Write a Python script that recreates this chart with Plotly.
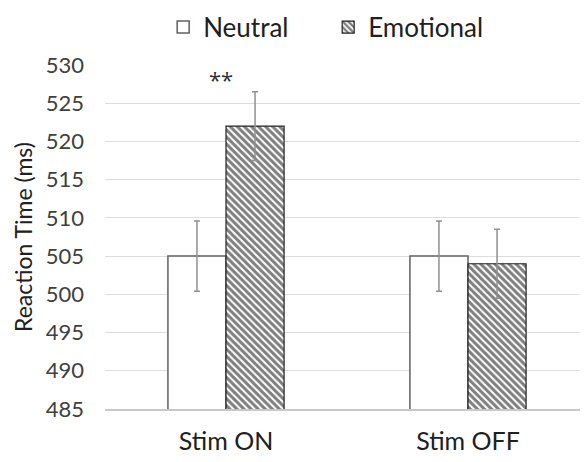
import plotly.graph_objects as go

categories = ["Stim ON", "Stim OFF"]
neutral = [505.0, 505.0]
emotional = [522.0, 504.0]
neutral_err = [4.6, 4.6]
emotional_err = [4.5, 4.5]
y_ticks = [485, 490, 495, 500, 505, 510, 515, 520, 525, 530]

FONT = "Lato"
TXT = "#404040"

fig = go.Figure()
fig.add_trace(go.Bar(
    name="Neutral", x=categories, y=neutral,
    marker=dict(color="white", line=dict(color="#606060", width=1.5)),
    error_y=dict(type="data", array=neutral_err, color="#909090", thickness=1.5, width=3),
))
fig.add_trace(go.Bar(
    name="Emotional", x=categories, y=emotional,
    marker=dict(color="white", line=dict(color="#202020", width=1.2),
                pattern=dict(shape="\\", fgcolor="#000000", bgcolor="white", size=5, solidity=0.6)),
    error_y=dict(type="data", array=emotional_err, color="#909090", thickness=1.5, width=3),
))

fig.add_annotation(x=categories[0], y=528.2, text="**", showarrow=False, xshift=-5,
                   font=dict(family="Open Sans", size=22, color="#303030"))

fig.update_layout(
    width=588, height=462,
    margin=dict(l=97, r=7, t=57, b=61, autoexpand=False),
    paper_bgcolor="white", plot_bgcolor="white",
    barmode="group", bargap=0.52, bargroupgap=0,
    font=dict(family=FONT, size=22, color=TXT),
    showlegend=True,
    legend=dict(orientation="h", x=0.5445, xanchor="center", xref="container",
                y=1.11, yanchor="middle", yref="paper",
                font=dict(size=26, color="#202020"),
                itemwidth=30, entrywidth=120, traceorder="normal"),
    xaxis=dict(showline=True, linecolor="#c8c8c8", linewidth=1.5, ticks="",
               ticklabelstandoff=9,
               tickfont=dict(size=25, color="#202020"), showgrid=False),
    yaxis=dict(range=[485, 530], tickvals=y_ticks, showgrid=True, gridcolor="#dcdcdc",
               gridwidth=1, showline=False, zeroline=False, ticks="", ticklabelstandoff=20,
               title=dict(text="Reaction Time (ms)", font=dict(size=23, color="#202020"), standoff=6),
               tickfont=dict(size=22, color=TXT)),
)

fig.write_html("out.html")
